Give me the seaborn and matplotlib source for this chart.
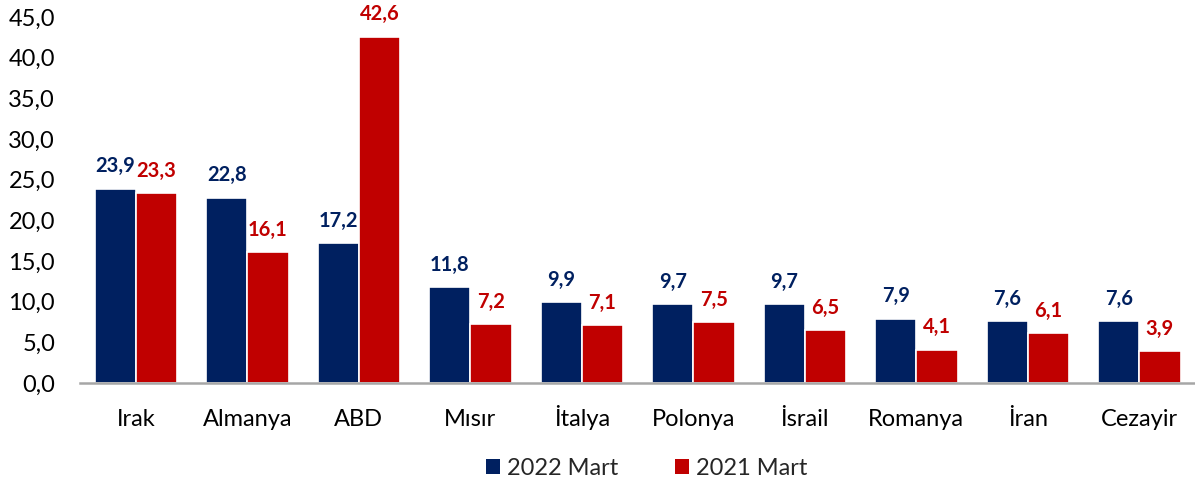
import matplotlib
matplotlib.use("Agg")
import matplotlib.pyplot as plt
import seaborn as sns
import pandas as pd
from matplotlib.patches import Patch

categories = ["Irak", "Almanya", "ABD", "Mısır", "İtalya", "Polonya", "İsrail", "Romanya", "İran", "Cezayir"]
values_2022 = [23.9, 22.8, 17.2, 11.8, 9.9, 9.7, 9.7, 7.9, 7.6, 7.6]
values_2021 = [23.3, 16.1, 42.6, 7.2, 7.1, 7.5, 6.5, 4.1, 6.1, 3.9]
series_names = ["2022 Mart", "2021 Mart"]
yticks = [0, 5, 10, 15, 20, 25, 30, 35, 40, 45]

NAVY = "#002060"
RED = "#C00000"

sns.set_theme(style="white")
plt.rcParams["font.family"] = ["Lato", "DejaVu Sans"]

df = pd.DataFrame({
    "Ülke": categories * 2,
    "Değer": values_2022 + values_2021,
    "Seri": [series_names[0]] * len(categories) + [series_names[1]] * len(categories),
})

fig = plt.figure(figsize=(11.95, 4.86), dpi=100)
ax = fig.add_axes([0.067, 0.212, 0.933, 0.753])

sns.barplot(data=df, x="Ülke", y="Değer", hue="Seri", order=categories,
            hue_order=series_names, palette=[NAVY, RED], width=0.74,
            edgecolor="white", linewidth=1.2, saturation=1, ax=ax, legend=False)

for cont, col in zip(ax.containers, [NAVY, RED]):
    labels = [f"{v:.1f}".replace(".", ",") for v in cont.datavalues]
    ax.bar_label(cont, labels=labels, padding=9, color=col, fontsize=14.5, fontweight="bold")

ax.set_xlim(-0.5, len(categories) - 0.5)
ax.set_ylim(0, 45)
ax.set_yticks(yticks)
ax.set_yticklabels([f"{t:.1f}".replace(".", ",") for t in yticks])
ax.set_xlabel("")
ax.set_ylabel("")
ax.tick_params(axis="y", labelsize=17, length=0, pad=18, labelcolor="black")
ax.tick_params(axis="x", labelsize=17, length=0, pad=31, labelcolor="black")
for lbl in ax.get_xticklabels():
    lbl.set_verticalalignment("baseline")
for s in ["top", "right", "left"]:
    ax.spines[s].set_visible(False)
ax.spines["bottom"].set_color("#A6A6A6")
ax.spines["bottom"].set_linewidth(1.8)
ax.grid(False)

handles = [Patch(facecolor=NAVY, edgecolor="none"), Patch(facecolor=RED, edgecolor="none")]
fig.legend(handles, series_names, loc="center", bbox_to_anchor=(0.541, 0.037), ncol=2,
           frameon=False, fontsize=17, handlelength=0.6, handleheight=0.6,
           handletextpad=0.3, columnspacing=2.4)

fig.savefig("out.png", dpi=100)
